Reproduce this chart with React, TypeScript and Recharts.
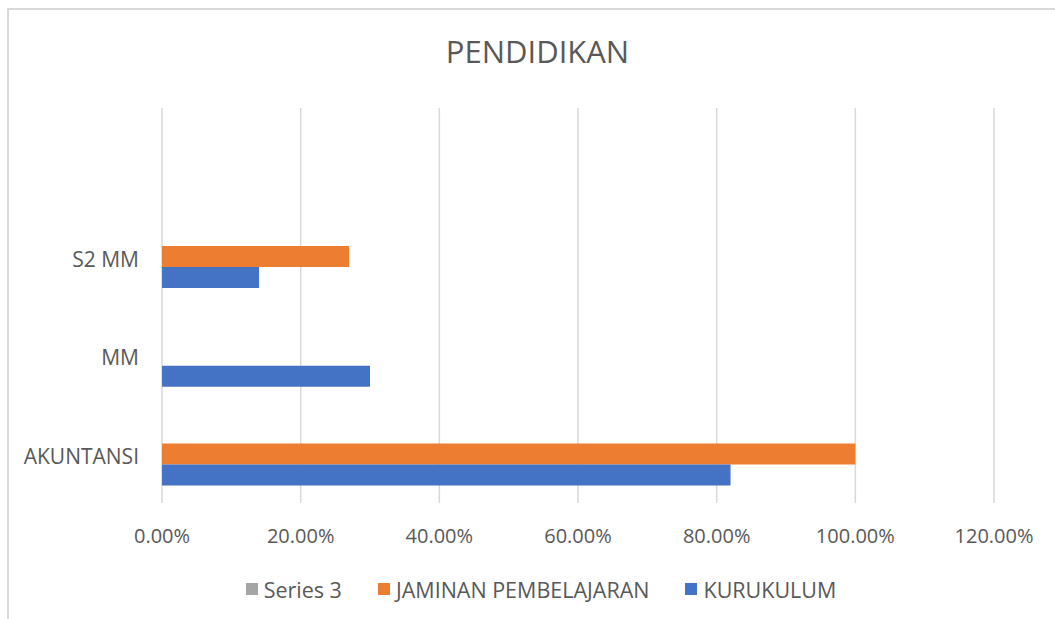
import React from "react";
import { BarChart, Bar, XAxis, YAxis, CartesianGrid, Legend } from "recharts";

const categories = ["", "S2 MM", "MM", "AKUNTANSI"];
const series3: (number | null)[] = [null, null, null, null];
const jaminan: (number | null)[] = [null, 0.27, null, 1.0];
const kurukulum: (number | null)[] = [null, 0.14, 0.3, 0.82];
const xTicks = [0, 0.2, 0.4, 0.6, 0.8, 1.0, 1.2];
const seriesNames = ["Series 3", "JAMINAN PEMBELAJARAN", "KURUKULUM"];
const seriesKeys = ["s3", "jam", "kur"];
const seriesColors = ["#A5A5A5", "#ED7D31", "#4472C4"];

const data = categories.map((c, i) => ({
  name: c,
  s3: series3[i],
  jam: jaminan[i],
  kur: kurukulum[i],
}));

const FONT = "'Open Sans', sans-serif";
const TXT = "#595959";

const renderLegend = () => (
  <div
    style={{
      display: "flex",
      justifyContent: "center",
      alignItems: "center",
      fontFamily: FONT,
      fontSize: 21.5,
      color: TXT,
      height: 30,
    }}
  >
    {seriesNames.map((n, i) => (
      <div key={n} style={{ display: "flex", alignItems: "center", marginRight: i < seriesNames.length - 1 ? 36 : 0 }}>
        <span style={{ display: "inline-block", width: 12, height: 12, background: seriesColors[i], marginRight: 6 }} />
        <span>{n}</span>
      </div>
    ))}
  </div>
);

const YTick = (props: any) => {
  const { x, y, payload } = props;
  return (
    <text x={x} y={y + 3} dy="0.355em" textAnchor="end" fill={TXT} fontSize={21} fontFamily={FONT}>
      {payload.value}
    </text>
  );
};

export default function App() {
  return (
    <div style={{ position: "absolute", left: 0, top: 0, width: 1055, height: 619, background: "#fff", overflow: "hidden" }}>
      <div
        style={{
          position: "absolute",
          left: 7,
          top: 8,
          width: 1100,
          height: 700,
          borderLeft: "2px solid #D9D9D9",
          borderTop: "2px solid #D9D9D9",
        }}
      />
      <div
        style={{
          position: "absolute",
          left: 0,
          width: 1075,
          top: 30,
          textAlign: "center",
          fontFamily: FONT,
          fontSize: 31,
          color: TXT,
        }}
      >
        PENDIDIKAN
      </div>
      <div style={{ position: "absolute", left: 0, top: 0 }}>
        <BarChart
          width={1055}
          height={619}
          data={data}
          layout="vertical"
          margin={{ top: 108, right: 61, bottom: 46, left: 2 }}
          barCategoryGap="18.6%"
          barGap={0}
        >
          <CartesianGrid horizontal={false} stroke="#D9D9D9" strokeWidth={1.5} />
          <XAxis
            type="number"
            domain={[0, 1.2]}
            ticks={xTicks}
            tickFormatter={(v: number) => (v * 100).toFixed(2) + "%"}
            axisLine={false}
            tickLine={false}
            height={40}
            tick={{ fill: TXT, fontSize: 20, fontFamily: FONT }}
            tickMargin={20}
          />
          <YAxis
            type="category"
            dataKey="name"
            width={160}
            axisLine={false}
            tickLine={false}
            tick={<YTick />}
            tickMargin={17}
          />
          <Legend
            verticalAlign="bottom"
            align="center"
            content={renderLegend}
            wrapperStyle={{ top: 574, left: 0, width: 1082 }}
          />
          {seriesKeys.map((k, i) => (
            <Bar key={k} dataKey={k} name={seriesNames[i]} fill={seriesColors[i]} isAnimationActive={false} />
          ))}
        </BarChart>
      </div>
    </div>
  );
}
